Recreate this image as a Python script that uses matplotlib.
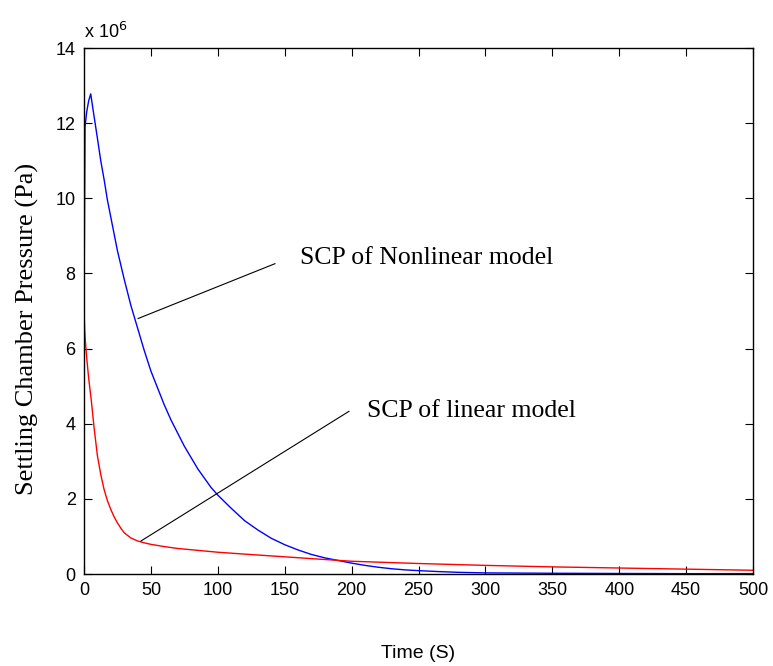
import matplotlib.pyplot as plt

# Presión en la cámara de asentamiento (unidades de 1e6 Pa)
t_nolineal = [0, 0.75, 2, 3.5, 5, 7, 10, 12.5, 15, 17.5, 20, 25, 30, 35, 40, 45, 50, 55,
              60, 65, 70, 75, 80, 85, 90, 95, 100, 110, 120, 130, 140, 150, 160, 170,
              180, 190, 200, 210, 220, 230, 240, 250, 265, 280, 300, 350, 400, 450, 500]
p_nolineal = [7.0, 11.9, 12.3, 12.6, 12.78, 12.3, 11.6, 11.0, 10.5, 9.95, 9.5, 8.6, 7.85,
              7.15, 6.55, 5.95, 5.4, 4.95, 4.5, 4.1, 3.75, 3.4, 3.1, 2.8, 2.55, 2.3, 2.1,
              1.75, 1.42, 1.17, 0.95, 0.78, 0.64, 0.52, 0.43, 0.36, 0.29, 0.23, 0.18,
              0.14, 0.11, 0.09, 0.065, 0.045, 0.03, 0.02, 0.015, 0.01, 0.01]

t_lineal = [0, 0.5, 1, 2, 3.5, 5.5, 7.5, 10, 12.5, 15, 17.5, 20, 22.5, 25, 27.5, 30, 35,
            40, 45, 50, 60, 70, 85, 100, 120, 145, 170, 200, 250, 300, 350, 400, 450, 500]
p_lineal = [7.0, 6.5, 6.2, 5.75, 5.2, 4.6, 3.9, 3.15, 2.65, 2.25, 1.95, 1.72, 1.52, 1.36,
            1.22, 1.1, 0.96, 0.88, 0.83, 0.79, 0.73, 0.68, 0.63, 0.58, 0.53, 0.47, 0.41,
            0.34, 0.28, 0.23, 0.19, 0.16, 0.13, 0.10]

xticks = [0, 50, 100, 150, 200, 250, 300, 350, 400, 450, 500]
yticks = [0, 2, 4, 6, 8, 10, 12, 14]

fig = plt.figure(figsize=(7.73, 6.66), dpi=100)
ax = fig.add_axes([0.1087, 0.1381, 0.8655, 0.7898])

ax.plot(t_nolineal, p_nolineal, color='b', lw=1.0)
ax.plot(t_lineal, p_lineal, color='r', lw=1.0)

ax.set_xlim(0, 500)
ax.set_ylim(0, 14)
ax.set_xticks(xticks)
ax.set_yticks(yticks)
ax.tick_params(direction='in', top=True, right=True, labelsize=13, length=6, pad=6,
               labelfontfamily='Liberation Sans')
for s in ax.spines.values():
    s.set_linewidth(1.0)

ax.text(0.0, 1.012, 'x 10$^{6}$', transform=ax.transAxes, fontsize=13,
        family='Liberation Sans', ha='left', va='bottom')

ax.set_xlabel('Time (S)', fontsize=14, family='Liberation Sans', labelpad=33)
ax.set_ylabel('Settling Chamber Pressure (Pa)', fontsize=19, family='Liberation Serif')
ax.yaxis.set_label_coords(-0.068, 0.466)

# anotaciones
ax.plot([40.4, 142.7], [6.8, 8.26], color='k', lw=0.8)
ax.text(161.4, 8.26, 'SCP of Nonlinear model', fontsize=18.5, family='Liberation Serif',
        va='baseline', ha='left')
ax.plot([42.6, 198], [0.88, 4.33], color='k', lw=0.8)
ax.text(211.5, 4.18, 'SCP of linear model', fontsize=18.5, family='Liberation Serif',
        va='baseline', ha='left')

plt.savefig('out.png')
